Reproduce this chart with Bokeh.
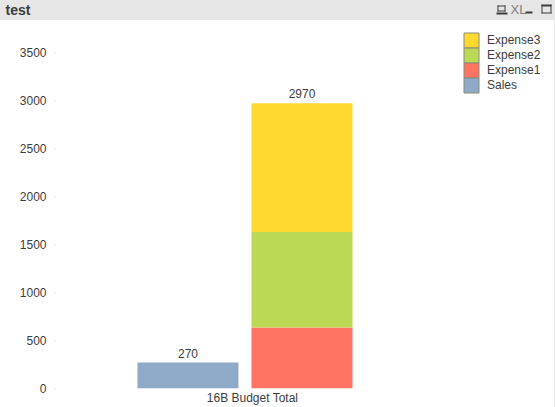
from bokeh.embed import file_html
from bokeh.resources import INLINE
from bokeh.plotting import figure
from bokeh.layouts import column
from bokeh.models import Range1d, FixedTicker, BoxAnnotation, Legend, LegendItem
from bokeh.core.properties import value

TITLE = "test"
CATEGORY = "16B Budget Total"
SERIES = ["Sales", "Expense1", "Expense2", "Expense3"]
SALES = 270
EXPENSE1 = 635
EXPENSE2 = 995
EXPENSE3 = 1340
TOTALS = [270, 2970]
Y_TICKS = [0, 500, 1000, 1500, 2000, 2500, 3000, 3500]
COLORS = {"Sales": "#8FAAC9", "Expense1": "#FF7363", "Expense2": "#BBD955", "Expense3": "#FFD92F"}

FONT = "Liberation Sans"
TEXT = "#3C3C3C"
W, H = 555, 407
BAR_H = 20      # caption bar
EDGE = 2        # light line at the foot of the page
FL, FT, FB = 55, 20, 388
MAIN_H = H - BAR_H - EDGE

# ---- caption bar
head = figure(width=W, height=BAR_H, output_backend="svg", toolbar_location=None,
              x_range=Range1d(0, W), y_range=Range1d(BAR_H, 0),
              min_border=0, x_axis_type=None, y_axis_type=None, frame_align=False,
              background_fill_color="#E6E6E6", border_fill_color="#E6E6E6")
head.outline_line_color = None
head.grid.visible = False
head.text(x=[5], y=[9], text=[TITLE], text_font=value(FONT), text_font_size="14px", text_font_style="bold",
          text_color=TEXT, text_baseline="middle")
head.text(x=[510], y=[9], text=["XL"], text_font=value(FONT), text_font_size="13px", text_color="#808080",
          text_baseline="middle")
ICON_L = [497, 497, 497, 504, 496, 525, 541, 541, 541, 550]
ICON_R = [505, 505, 498, 505, 507, 532, 551, 551, 542, 551]
ICON_T = [5, 10, 5, 5, 12, 11, 4, 12, 4, 4]
ICON_B = [6, 11, 11, 11, 14, 13, 6, 13, 13, 13]
head.quad(left=ICON_L, right=ICON_R, top=ICON_T, bottom=ICON_B, fill_color=TEXT, line_color=None)

# ---- chart
p = figure(width=W - 1, height=MAIN_H, output_backend="svg", toolbar_location=None,
           x_range=Range1d(-1.162, 3.215), y_range=Range1d(0, 3833),
           frame_width=W - 1 - FL, frame_height=FB - FT, frame_align=False,
           min_border_left=FL, min_border_right=0, min_border_top=0, min_border_bottom=MAIN_H - (FB - FT),
           background_fill_color="#FFFFFF", border_fill_color="#FFFFFF")
p.styles = {"background": "#FFFFFF"}
p.outline_line_color = None
p.grid.visible = False

yax = p.yaxis[0]
yax.ticker = FixedTicker(ticks=Y_TICKS)
yax.axis_line_color = None
yax.major_tick_line_color = "#C8C8C8"
yax.major_tick_out = 1
yax.major_tick_in = 0
yax.minor_tick_out = 0
yax.minor_tick_in = 0
yax.minor_tick_line_color = None
yax.major_label_standoff = 8
yax.major_label_text_font = FONT
yax.major_label_text_font_size = "12px"
yax.major_label_text_color = TEXT
yax.major_label_text_font_style = "normal"

xax = p.xaxis[0]
xax.ticker = FixedTicker(ticks=[0.566])
xax.major_label_overrides = {0.566: CATEGORY}
xax.axis_line_color = None
xax.major_tick_line_color = None
xax.major_tick_out = 0
xax.major_tick_in = 0
xax.minor_tick_out = 0
xax.minor_tick_in = 0
xax.minor_tick_line_color = None
xax.major_label_standoff = 2
xax.major_label_text_font = FONT
xax.major_label_text_font_size = "12px"
xax.major_label_text_color = TEXT

W_BAR = 101 / 114
p.vbar(x=[0], bottom=[0], top=[SALES], width=W_BAR, fill_color=COLORS["Sales"], line_color=None)
stack = 0
for name, v in [("Expense1", EXPENSE1), ("Expense2", EXPENSE2), ("Expense3", EXPENSE3)]:
    p.vbar(x=[1], bottom=[stack], top=[stack + v], width=W_BAR, fill_color=COLORS[name], line_color=None)
    stack += v

p.text(x=[0, 1], y=TOTALS, text=[str(t) for t in TOTALS], text_align="center", text_baseline="bottom",
       y_offset=-5, text_font=value(FONT), text_font_size="12px", text_color=TEXT)

# legend: the labels come from a Legend; Bokeh insets bar swatches, so the swatches are boxes of full height
items = []
for i, name in enumerate(reversed(SERIES)):
    r = p.vbar(x=[-100], bottom=[0], top=[1], width=1, fill_alpha=0, line_color=None)
    items.append(LegendItem(label=name, renderers=[r]))
    p.add_layout(BoxAnnotation(left=463.5 - FL, right=478.5 - FL, top=FB - 32.5 - 15 * i, bottom=FB - 47.5 - 15 * i,
                               left_units="screen", right_units="screen", top_units="screen", bottom_units="screen",
                               fill_color=COLORS[name], fill_alpha=1, line_color="#8A8A7A", line_alpha=1, line_width=1,
                               level="annotation"))
leg = Legend(items=items, location=(408, 296), orientation="vertical", glyph_width=16, glyph_height=15,
             label_height=15, label_width=40, spacing=0, padding=0, margin=0, label_standoff=8,
             border_line_color=None, background_fill_alpha=0, label_text_font=FONT,
             label_text_font_size="12px", label_text_color=TEXT)
p.add_layout(leg, "center")

page = column(head, p, spacing=0, width=W, height=H,
              styles={"position": "fixed", "left": "0", "top": "0", "background": "#E8E8E8"})
open("out.html", "w").write(file_html(page, INLINE))
